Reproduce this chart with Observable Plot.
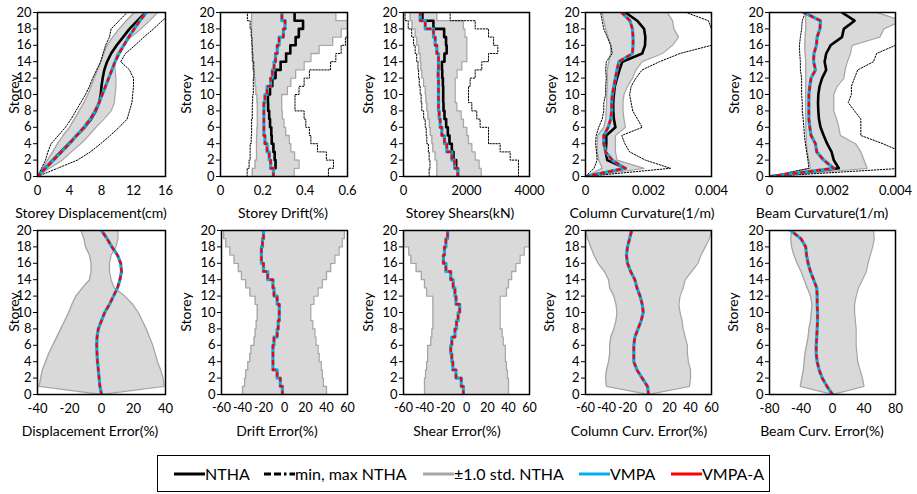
<!DOCTYPE html>
<html><head><meta charset="utf-8">
<script src="https://cdn.jsdelivr.net/npm/d3@7"></script>
<script src="https://cdn.jsdelivr.net/npm/@observablehq/plot@0.6"></script>
<style>
body{margin:0;background:#fff;font-family:Lato,"Open Sans",sans-serif;}
#wrap{position:relative;width:917px;height:494px;overflow:hidden;background:#fff;}
.xl{position:absolute;font-size:14px;transform:translate(-50%,-50%);white-space:nowrap;color:#000;}
.yl{position:absolute;font-size:14px;transform:translate(-50%,-50%) rotate(-90deg);white-space:nowrap;color:#000;}
#legend{position:absolute;left:157px;top:455px;width:611px;height:35px;border:1.5px solid #000;}
.li{position:absolute;top:0;height:35px;display:flex;align-items:center;font-size:16px;white-space:nowrap;}
</style></head>
<body><div id="wrap"></div>
<script>
// ---- shared ----
const storeyTicks = [0, 2, 4, 6, 8, 10, 12, 14, 16, 18, 20];
const legendLabels = ["NTHA", "min, max NTHA", "±1.0 std. NTHA", "VMPA", "VMPA-A"];

// ---- Storey displacement (cm), storeys 0..20 ----
const dispNTHA  = [0, 0.9, 1.9, 2.9, 3.9, 4.9, 5.9, 6.7, 7.3, 7.7, 7.9, 8.0, 8.15, 8.35, 8.7, 9.2, 9.9, 10.7, 11.5, 12.5, 13.5];
const dispVMPA  = [0, 1.0, 2.0, 3.0, 4.0, 4.9, 5.8, 6.6, 7.2, 7.7, 8.1, 8.5, 8.9, 9.3, 9.7, 10.2, 10.8, 11.4, 12.1, 12.8, 13.6];
const dispVMPAA = [0, 1.0, 2.0, 3.0, 4.0, 4.9, 5.8, 6.6, 7.2, 7.7, 8.1, 8.5, 8.9, 9.3, 9.7, 10.2, 10.8, 11.4, 12.1, 12.8, 13.6];
const dispStdLo = [0, 0.6, 1.25, 1.9, 2.5, 3.2, 4.0, 4.6, 5.2, 5.8, 6.3, 6.7, 7.1, 7.5, 7.9, 8.3, 8.7, 9.4, 10.2, 11.1, 12.1];
const dispStdHi = [0, 1.5, 3.1, 4.2, 5.4, 6.4, 7.3, 8.3, 9.2, 9.6, 9.7, 9.8, 9.8, 9.7, 9.6, 9.9, 10.6, 11.7, 12.9, 14.0, 15.0];
const dispMin   = [0, 0.5, 1.0, 1.3, 1.7, 2.6, 3.5, 4.2, 4.8, 5.4, 6.0, 6.5, 6.9, 7.4, 7.9, 8.2, 8.5, 9.0, 9.2, 10.2, 11.2];
const dispMax   = [0, 2.5, 5.0, 6.6, 7.9, 9.1, 10.2, 11.2, 11.5, 11.8, 11.9, 12.0, 12.0, 11.5, 10.4, 11.0, 12.2, 13.3, 14.5, 15.6, 16.8];

// ---- Storey drift (%), storeys 1..20 ----
const driftNTHA  = [0.25, 0.26, 0.256, 0.25, 0.242, 0.24, 0.234, 0.23, 0.225, 0.224, 0.234, 0.245, 0.26, 0.284, 0.31, 0.33, 0.355, 0.37, 0.39, 0.35];
const driftVMPA  = [0.25, 0.237, 0.23, 0.22, 0.21, 0.205, 0.205, 0.205, 0.205, 0.21, 0.22, 0.237, 0.245, 0.253, 0.26, 0.268, 0.277, 0.297, 0.305, 0.29];
const driftVMPAA = [0.25, 0.237, 0.23, 0.22, 0.21, 0.205, 0.205, 0.205, 0.205, 0.21, 0.22, 0.237, 0.245, 0.253, 0.26, 0.268, 0.277, 0.297, 0.305, 0.29];
const driftStdLo = [0.15, 0.163, 0.17, 0.17, 0.17, 0.172, 0.174, 0.174, 0.174, 0.172, 0.167, 0.163, 0.158, 0.153, 0.15, 0.15, 0.15, 0.147, 0.147, 0.147];
const driftStdHi = [0.348, 0.371, 0.35, 0.332, 0.325, 0.308, 0.3, 0.292, 0.289, 0.289, 0.316, 0.332, 0.355, 0.395, 0.427, 0.466, 0.53, 0.57, 0.61, 0.545];
const driftMin   = [0.126, 0.135, 0.14, 0.14, 0.145, 0.147, 0.147, 0.15, 0.15, 0.152, 0.155, 0.155, 0.158, 0.157, 0.153, 0.15, 0.148, 0.145, 0.14, 0.127];
const driftMax   = [0.51, 0.534, 0.5, 0.458, 0.427, 0.42, 0.403, 0.395, 0.352, 0.352, 0.371, 0.395, 0.42, 0.52, 0.545, 0.57, 0.59, 0.63, 0.65, 0.66];

// ---- Storey shears (kN), storeys 1..20 ----
const shearNTHA  = [1725, 1672, 1587, 1534, 1460, 1407, 1354, 1301, 1270, 1260, 1260, 1250, 1230, 1220, 1300, 1370, 1350, 1290, 950, 600];
const shearVMPA  = [1725, 1620, 1534, 1375, 1300, 1217, 1164, 1132, 1111, 1111, 1111, 1111, 1100, 1111, 1111, 1058, 1005, 952, 690, 530];
const shearVMPAA = [1725, 1620, 1534, 1375, 1300, 1217, 1164, 1132, 1111, 1111, 1111, 1111, 1100, 1111, 1111, 1058, 1005, 952, 690, 530];
const shearStdLo = [1058, 1058, 1005, 931, 900, 850, 820, 772, 740, 710, 690, 635, 580, 550, 530, 480, 420, 370, 270, 210];
const shearStdHi = [2465, 2400, 2275, 2169, 2063, 2010, 1904, 1830, 1693, 1640, 1640, 1640, 1700, 1851, 2010, 2010, 2010, 1950, 1900, 1058];
const shearMin   = [815, 840, 815, 790, 740, 720, 690, 640, 580, 560, 530, 500, 480, 460, 420, 370, 320, 260, 150, 50];
const shearMax   = [3650, 3650, 3386, 3068, 2698, 2698, 2433, 2327, 2169, 2063, 2063, 2116, 2275, 2486, 2698, 2994, 2860, 2698, 2275, 1481];

// ---- Column curvature (1/m), storeys 0..20 ----
const colNTHA  = [0, 0.00127, 0.00069, 0.00064, 0.00066, 0.00066, 0.00095, 0.0009, 0.00088, 0.00088, 0.0009, 0.00093, 0.001, 0.00108, 0.00117, 0.0018, 0.00189, 0.0019, 0.00186, 0.00164, 0.00127];
const colVMPA  = [0, 0.00125, 0.00085, 0.00064, 0.00058, 0.00058, 0.00072, 0.0008, 0.00083, 0.00083, 0.00085, 0.0009, 0.00095, 0.001, 0.00106, 0.00149, 0.00151, 0.00151, 0.00149, 0.00141, 0.00115];
const colVMPAA = [0, 0.00125, 0.00085, 0.00064, 0.00058, 0.00058, 0.00072, 0.0008, 0.00083, 0.00083, 0.00085, 0.0009, 0.00095, 0.001, 0.00106, 0.00149, 0.00151, 0.00151, 0.00149, 0.00141, 0.00115];
const colStdLo = [0, 0.00053, 0.00042, 0.00037, 0.00037, 0.00039, 0.00058, 0.00064, 0.00066, 0.00067, 0.00067, 0.00069, 0.00069, 0.00069, 0.00074, 0.0008, 0.0008, 0.00072, 0.00064, 0.00058, 0.00053];
const colStdHi = [0, 0.00186, 0.001, 0.00095, 0.00095, 0.00095, 0.00127, 0.00122, 0.00119, 0.00119, 0.00122, 0.00133, 0.00149, 0.0016, 0.0018, 0.00244, 0.00276, 0.00295, 0.00281, 0.00276, 0.0026];
const colMin   = [0, 0.00027, 0.00037, 0.00035, 0.00032, 0.00034, 0.00042, 0.00053, 0.00058, 0.00058, 0.00064, 0.00064, 0.00066, 0.00064, 0.00066, 0.00085, 0.0008, 0.00069, 0.00058, 0.00053, 0.00048];
const colMax   = [0, 0.0027, 0.0019, 0.0014, 0.00125, 0.00115, 0.0018, 0.00165, 0.0015, 0.00145, 0.0014, 0.00145, 0.0016, 0.0018, 0.00235, 0.003, 0.004, 0.0041, 0.004, 0.0039, 0.0032];

// ---- Beam curvature (1/m), storeys 0..20 ----
const beamNTHA  = [0, 0.0022, 0.00204, 0.00197, 0.00183, 0.00172, 0.00162, 0.00157, 0.00155, 0.00154, 0.00155, 0.00159, 0.00167, 0.0018, 0.00175, 0.0018, 0.00194, 0.0023, 0.00236, 0.0027, 0.0023];
const beamVMPA  = [0, 0.00204, 0.00172, 0.0015, 0.00146, 0.00132, 0.00128, 0.00125, 0.00125, 0.00125, 0.00125, 0.00128, 0.00132, 0.00146, 0.0014, 0.00141, 0.00149, 0.00151, 0.0016, 0.00162, 0.00109];
const beamVMPAA = [0, 0.00204, 0.00172, 0.0015, 0.00146, 0.00132, 0.00128, 0.00125, 0.00125, 0.00125, 0.00125, 0.00128, 0.00132, 0.00146, 0.0014, 0.00141, 0.00149, 0.00151, 0.0016, 0.00162, 0.00109];
const beamStdLo = [0, 0.0013, 0.00125, 0.0012, 0.00117, 0.00117, 0.00115, 0.00115, 0.00115, 0.00115, 0.00115, 0.00115, 0.00115, 0.00115, 0.00115, 0.00113, 0.00112, 0.00113, 0.00115, 0.00115, 0.00114];
const beamStdHi = [0, 0.0031, 0.003, 0.0029, 0.00273, 0.00225, 0.0022, 0.00213, 0.00204, 0.00204, 0.00204, 0.00215, 0.00236, 0.0024, 0.00247, 0.00257, 0.00262, 0.0035, 0.00363, 0.0042, 0.0034];
const beamMin   = [0, 0.00125, 0.00122, 0.00118, 0.00114, 0.00111, 0.00109, 0.00107, 0.00104, 0.00104, 0.00102, 0.00102, 0.00102, 0.00098, 0.00098, 0.00096, 0.00095, 0.00098, 0.00102, 0.00104, 0.00114];
const beamMax   = [0, 0.0042, 0.0044, 0.0042, 0.0036, 0.0029, 0.0029, 0.0029, 0.0027, 0.0025, 0.0026, 0.0026, 0.0027, 0.0028, 0.0033, 0.0034, 0.004, 0.0043, 0.0045, 0.0046, 0.0046];

// ---- Errors (%) ----
const dispErrVMPA  = [0, -1, -1.5, -2, -2.5, -2.8, -3, -2.8, -2, 0, 2, 5, 7.5, 10, 11.5, 12.5, 12, 10, 6.5, 3.5, 0];
const dispErrVMPAA = [0, -1, -1.5, -2, -2.5, -2.8, -3, -2.8, -2, 0, 2, 5, 7.5, 10, 11.5, 12.5, 12, 10, 6.5, 3.5, 0];
const dispErrLo = [0, -39, -38, -37, -35, -33, -30.5, -28, -25.5, -23, -20.5, -18.5, -16, -12, -7.5, -6.5, -6.5, -7.5, -10, -11, -12.8];
const dispErrHi = [0, 39, 38.5, 37, 35, 33.5, 32, 30, 28, 25.5, 23, 19.5, 14.5, 8, 6, 5, 5, 6, 9, 10.3, 10.3];

const driftErrVMPA  = [-2, -4, -7, -11, -11, -11, -10, -7, -6, -5, -5, -7, -10, -11, -16, -20, -22, -22, -21, -20];
const driftErrVMPAA = [-2, -4, -7, -11, -11, -11, -10, -7, -6, -5, -5, -7, -10, -11, -16, -20, -22, -22, -21, -20];
const driftErrLo = [-40, -38, -37, -35, -33, -32, -29, -28, -27, -26, -26, -28, -33, -37, -41, -44, -48, -52, -56, -58];
const driftErrHi = [40, 37, 36, 35, 33, 32, 30, 29, 27, 25, 25, 28, 32, 36, 40, 44, 48, 52, 55, 57];

const shearErrVMPA  = [-3, -5, -10, -13, -14, -15, -14, -11, -9.5, -8, -6.5, -10, -11, -12.7, -15, -19.6, -22, -21, -19.6, -18];
const shearErrVMPAA = [-3, -5, -10, -13, -14, -15, -14, -11, -9.5, -8, -6.5, -10, -11, -12.7, -15, -19.6, -22, -21, -19.6, -18];
const shearErrLo = [-40, -40, -39, -38, -37, -37, -34, -33, -32, -32, -32, -32, -38, -40, -43, -48, -53, -55, -60, -60];
const shearErrHi = [40, 40, 39, 38, 37, 37, 35, 34, 32, 32, 32, 32, 38, 40, 43, 47, 51, 55, 60, 60];

const colErrVMPA  = [0, -1, -6, -11, -14, -14, -14, -13, -10, -7, -5, -6, -8, -11, -13, -17, -20, -21, -20, -18, -16];
const colErrVMPAA = [0, -1, -6, -11, -14, -14, -14, -13, -10, -7, -5, -6, -8, -11, -13, -17, -20, -21, -20, -18, -16];
const colErrLo = [0, -40, -41, -40, -38, -37, -37, -36, -33, -31, -30, -31, -33, -37, -38, -42, -48, -52, -55, -58, -60];
const colErrHi = [0, 39, 40, 40, 38, 37, 37, 35, 33, 32, 30, 29, 30, 33, 35, 41, 47, 50, 54, 58, 60];

const beamErrVMPA  = [0, -7, -13, -17, -19.5, -20.7, -20.7, -20, -19.5, -19, -19, -19.5, -19.5, -20, -24, -28, -31, -33, -34, -40, -53];
const beamErrVMPAA = [0, -7, -13, -17, -19.5, -20.7, -20.7, -20, -19.5, -19, -19, -19.5, -19.5, -20, -24, -28, -31, -33, -34, -40, -53];
const beamErrLo = [0, -41, -39, -37, -36, -35, -33, -31, -30, -28, -27, -26, -28, -32, -36, -40, -45, -49, -52, -53, -52];
const beamErrHi = [0, 40, 38, 35, 32, 31, 30, 30, 30, 29, 28, 28, 30, 33, 38, 43, 45, 48, 51, 53, 52];

// ---- tick labels ----
const dispTicks = [0, 4, 8, 12, 16];
const driftTicks = [0, 0.2, 0.4, 0.6];
const shearTicks = [0, 2000, 4000];
const curvTicks = [0, 0.002, 0.004];
const err40Ticks = [-40, -20, 0, 20, 40];
const err60Ticks = [-60, -40, -20, 0, 20, 40, 60];
const err80Ticks = [-80, -40, 0, 40, 80];

// ---- styles ----
const C = {ntha: "#000000", std: "#a6a6a6", fill: "#d9d9d9", vmpa: "#00b0f0", vmpaA: "#ff0000"};

const panels = [
  {row: 0, left: 37,  w: 128, dom: [0, 16], ticks: dispTicks, step: false, nth: dispNTHA, vm: dispVMPA, va: dispVMPAA, lo: dispStdLo, hi: dispStdHi, mn: dispMin, mx: dispMax, xl: "Storey Displacement(cm)", xlx: 91, ylx: 13},
  {row: 0, left: 220, w: 127, dom: [0, 0.6], ticks: driftTicks, step: true, nth: driftNTHA, vm: driftVMPA, va: driftVMPAA, lo: driftStdLo, hi: driftStdHi, mn: driftMin, mx: driftMax, xl: "Storey Drift(%)", xlx: 283, ylx: 185},
  {row: 0, left: 403, w: 126, dom: [0, 4000], ticks: shearTicks, step: true, nth: shearNTHA, vm: shearVMPA, va: shearVMPAA, lo: shearStdLo, hi: shearStdHi, mn: shearMin, mx: shearMax, xl: "Storey Shears(kN)", xlx: 460, ylx: 367},
  {row: 0, left: 585, w: 126, dom: [0, 0.004], ticks: curvTicks, step: false, nth: colNTHA, vm: colVMPA, va: colVMPAA, lo: colStdLo, hi: colStdHi, mn: colMin, mx: colMax, xl: "Column Curvature(1/m)", xlx: 642, ylx: 550},
  {row: 0, left: 769, w: 126, dom: [0, 0.004], ticks: curvTicks, step: false, nth: beamNTHA, vm: beamVMPA, va: beamVMPAA, lo: beamStdLo, hi: beamStdHi, mn: beamMin, mx: beamMax, xl: "Beam Curvature(1/m)", xlx: 822, ylx: 733},
  {row: 1, left: 37,  w: 128, dom: [-40, 40], ticks: err40Ticks, step: false, vm: dispErrVMPA, va: dispErrVMPAA, lo: dispErrLo, hi: dispErrHi, xl: "Displacement Error(%)", xlx: 90, ylx: 13},
  {row: 1, left: 221, w: 126, dom: [-60, 60], ticks: err60Ticks, step: true, vm: driftErrVMPA, va: driftErrVMPAA, lo: driftErrLo, hi: driftErrHi, xl: "Drift Error(%)", xlx: 277, ylx: 185},
  {row: 1, left: 403, w: 126, dom: [-60, 60], ticks: err60Ticks, step: true, vm: shearErrVMPA, va: shearErrVMPAA, lo: shearErrLo, hi: shearErrHi, xl: "Shear Error(%)", xlx: 457, ylx: 367},
  {row: 1, left: 585, w: 126, dom: [-60, 60], ticks: err60Ticks, step: false, vm: colErrVMPA, va: colErrVMPAA, lo: colErrLo, hi: colErrHi, xl: "Column Curv. Error(%)", xlx: 639, ylx: 548},
  {row: 1, left: 769, w: 126, dom: [-80, 80], ticks: err80Ticks, step: false, vm: beamErrVMPA, va: beamErrVMPAA, lo: beamErrLo, hi: beamErrHi, xl: "Beam Curv. Error(%)", xlx: 822, ylx: 732}
];

function prof(vals, step) {
  return step ? vals.flatMap((v, i) => [{v, s: i}, {v, s: i + 1}]) : vals.map((v, i) => ({v, s: i}));
}
function band(lo, hi, step) {
  return step
    ? lo.flatMap((v, i) => [{lo: v, hi: hi[i], s: i}, {lo: v, hi: hi[i], s: i + 1}])
    : lo.map((v, i) => ({lo: v, hi: hi[i], s: i}));
}

const wrap = document.getElementById("wrap");
const ML = 45, MR = 22, MT = 12, MB = 40, PH = 164;
const rowTop = [0, 218];

for (const p of panels) {
  const b = band(p.lo, p.hi, p.step);
  const marks = [
    Plot.areaX(b, {y: "s", x1: "lo", x2: "hi", fill: C.fill, clip: true}),
    Plot.line(b, {x: "lo", y: "s", stroke: C.std, strokeWidth: 1.3, clip: true}),
    Plot.line(b, {x: "hi", y: "s", stroke: C.std, strokeWidth: 1.3, clip: true})
  ];
  if (p.mn) {
    marks.push(Plot.line(prof(p.mn, p.step), {x: "v", y: "s", stroke: "#000", strokeWidth: 1, strokeDasharray: "1.5,1.5", clip: true}));
    marks.push(Plot.line(prof(p.mx, p.step), {x: "v", y: "s", stroke: "#000", strokeWidth: 1, strokeDasharray: "1.5,1.5", clip: true}));
  }
  if (p.nth) marks.push(Plot.line(prof(p.nth, p.step), {x: "v", y: "s", stroke: C.ntha, strokeWidth: 2.6, clip: true}));
  marks.push(Plot.line(prof(p.vm, p.step), {x: "v", y: "s", stroke: C.vmpa, strokeWidth: 3.2, clip: true}));
  marks.push(Plot.line(prof(p.va, p.step), {x: "v", y: "s", stroke: C.vmpaA, strokeWidth: 2.4, strokeDasharray: "3,5", clip: true}));
  marks.push(Plot.frame({stroke: "#000", strokeWidth: 1.5}));

  const dense = p.ticks.length > 5;
  const svg = Plot.plot({
    width: ML + p.w + MR, height: MT + PH + MB,
    marginLeft: ML, marginRight: MR, marginTop: MT, marginBottom: MB,
    style: {fontFamily: "Lato, 'Open Sans', sans-serif", fontSize: "13px", color: "#000", background: "transparent", overflow: "visible"},
    x: {domain: p.dom, ticks: p.ticks, tickFormat: d => String(d), tickSize: 0, tickPadding: 9, label: null},
    y: {domain: [0, 20], ticks: storeyTicks, tickFormat: d => String(d), tickSize: 4, tickPadding: 2, label: null},
    marks
  });
  if (dense) {
    svg.querySelectorAll("[aria-label='x-axis tick label'] text").forEach(t => t.setAttribute("font-size", "12.5"));
  }
  svg.style.position = "absolute";
  svg.style.left = (p.left - ML) + "px";
  svg.style.top = rowTop[p.row] + "px";
  svg.style.maxWidth = "none";
  wrap.appendChild(svg);

  const xl = document.createElement("div");
  xl.className = "xl"; xl.textContent = p.xl;
  xl.style.left = p.xlx + "px"; xl.style.top = (rowTop[p.row] + MT + PH + 36) + "px";
  wrap.appendChild(xl);
  const yl = document.createElement("div");
  yl.className = "yl"; yl.textContent = "Storey";
  yl.style.left = p.ylx + "px"; yl.style.top = (rowTop[p.row] + MT + PH / 2) + "px";
  wrap.appendChild(yl);
}

// ---- legend ----
const legend = document.createElement("div");
legend.id = "legend";
wrap.appendChild(legend);
const legendStyles = [
  {stroke: C.ntha, dash: null},
  {stroke: "#000", dash: "7,3,7,3,2.5,3"},
  {stroke: C.std, dash: null},
  {stroke: C.vmpa, dash: null},
  {stroke: C.vmpaA, dash: null}
];
const legendX = [16, 106, 265, 421, 513];
legendLabels.forEach((t, i) => {
  const it = document.createElement("div");
  it.className = "li";
  it.style.left = legendX[i] + "px";
  const s = legendStyles[i];
  it.innerHTML = `<svg width="31" height="6"><line x1="0" y1="3" x2="31" y2="3" stroke="${s.stroke}" stroke-width="3" ${s.dash ? `stroke-dasharray="${s.dash}"` : ""}/></svg><span>${t}</span>`;
  legend.appendChild(it);
});
</script>
</body></html>
